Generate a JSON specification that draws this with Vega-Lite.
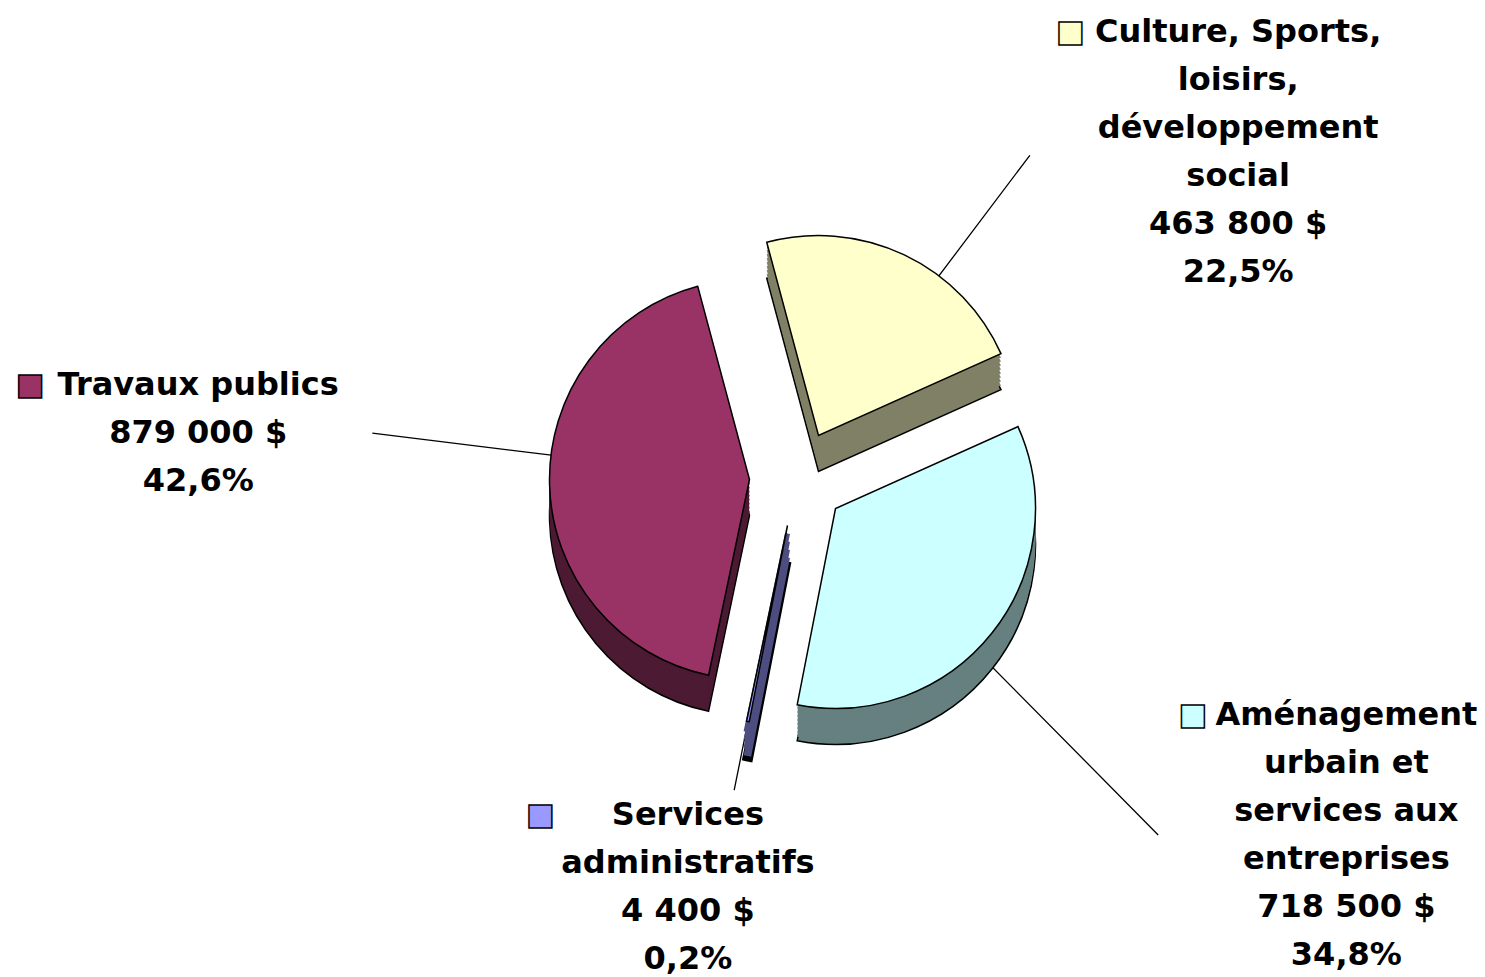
{
  "$schema": "https://vega.github.io/schema/vega-lite/v6.json",
  "width": 1485,
  "height": 977,
  "autosize": {"type": "none"},
  "padding": 0,
  "background": "white",
  "config": {"view": {"stroke": null}},
  "data": {
    "values": [
      {"categorie": "Culture, Sports, loisirs, développement social", "montant": 463800, "pourcentage": 22.5, "etiquette": "Culture, Sports,\nloisirs,\ndéveloppement\nsocial\n463 800 $\n22,5%"},
      {"categorie": "Aménagement urbain et services aux entreprises", "montant": 718500, "pourcentage": 34.8, "etiquette": "Aménagement\nurbain et\nservices aux\nentreprises\n718 500 $\n34,8%"},
      {"categorie": "Services administratifs", "montant": 4400, "pourcentage": 0.2, "etiquette": "Services\nadministratifs\n4 400 $\n0,2%"},
      {"categorie": "Travaux publics", "montant": 879000, "pourcentage": 42.6, "etiquette": "Travaux publics\n879 000 $\n42,6%"}
    ]
  },
  "transform": [
    {"stack": "montant", "groupby": [], "as": ["debut", "fin"]}
  ],
  "encoding": {
    "theta": {"field": "debut", "type": "quantitative", "scale": {"domain": [0, 2065700], "range": [-0.2618, 6.0214]}}
  },
  "layer": [
    {"transform": [{"filter": "datum.categorie === 'Culture, Sports, loisirs, développement social'"}], "mark": {"type": "arc", "radius": 351, "radius2": 150, "thetaOffset": 0.908, "theta2Offset": 0.908, "xOffset": 76, "yOffset": -53, "fillOpacity": 0, "stroke": "black", "strokeWidth": 1.3}, "encoding": {"theta2": {"field": "debut"}}},
    {"transform": [{"filter": "datum.categorie === 'Travaux publics'"}], "mark": {"type": "arc", "radius": 380, "radius2": 150, "thetaOffset": 1.487, "theta2Offset": 1.487, "xOffset": 7, "yOffset": -9, "fillOpacity": 0, "stroke": "black", "strokeWidth": 1.3}, "encoding": {"theta2": {"field": "debut"}}},
    {"transform": [{"filter": "datum.categorie === 'Aménagement urbain et services aux entreprises'"}], "mark": {"type": "arc", "radius": 459, "radius2": 150, "thetaOffset": 1.213, "theta2Offset": 1.213, "xOffset": 93, "yOffset": 20, "fillOpacity": 0, "stroke": "black", "strokeWidth": 1.3}, "encoding": {"theta2": {"field": "debut"}}},
    {"transform": [{"filter": "datum.categorie === 'Services administratifs'"}], "mark": {"type": "arc", "radius": 270, "radius2": 150, "thetaOffset": 0.006, "theta2Offset": 0.006, "xOffset": 45, "yOffset": 37, "fillOpacity": 0, "stroke": "black", "strokeWidth": 1.3}, "encoding": {"theta2": {"field": "debut"}}},

    {"transform": [{"filter": "datum.categorie === 'Culture, Sports, loisirs, développement social'"}], "mark": {"type": "arc", "radius": 200, "xOffset": 76, "yOffset": -17, "fill": "#808066", "stroke": "black", "strokeWidth": 1.5}, "encoding": {"theta2": {"field": "fin"}}},
    {"transform": [{"filter": "datum.categorie === 'Culture, Sports, loisirs, développement social'"}], "mark": {"type": "arc", "radius": 200, "xOffset": 76, "yOffset": -21, "fill": "#808066"}, "encoding": {"theta2": {"field": "fin"}}},
    {"transform": [{"filter": "datum.categorie === 'Culture, Sports, loisirs, développement social'"}], "mark": {"type": "arc", "radius": 200, "xOffset": 76, "yOffset": -25, "fill": "#808066"}, "encoding": {"theta2": {"field": "fin"}}},
    {"transform": [{"filter": "datum.categorie === 'Culture, Sports, loisirs, développement social'"}], "mark": {"type": "arc", "radius": 200, "xOffset": 76, "yOffset": -29, "fill": "#808066"}, "encoding": {"theta2": {"field": "fin"}}},
    {"transform": [{"filter": "datum.categorie === 'Culture, Sports, loisirs, développement social'"}], "mark": {"type": "arc", "radius": 200, "xOffset": 76, "yOffset": -33, "fill": "#808066"}, "encoding": {"theta2": {"field": "fin"}}},
    {"transform": [{"filter": "datum.categorie === 'Culture, Sports, loisirs, développement social'"}], "mark": {"type": "arc", "radius": 200, "xOffset": 76, "yOffset": -37, "fill": "#808066"}, "encoding": {"theta2": {"field": "fin"}}},
    {"transform": [{"filter": "datum.categorie === 'Culture, Sports, loisirs, développement social'"}], "mark": {"type": "arc", "radius": 200, "xOffset": 76, "yOffset": -41, "fill": "#808066"}, "encoding": {"theta2": {"field": "fin"}}},
    {"transform": [{"filter": "datum.categorie === 'Culture, Sports, loisirs, développement social'"}], "mark": {"type": "arc", "radius": 200, "xOffset": 76, "yOffset": -45, "fill": "#808066"}, "encoding": {"theta2": {"field": "fin"}}},
    {"transform": [{"filter": "datum.categorie === 'Culture, Sports, loisirs, développement social'"}], "mark": {"type": "arc", "radius": 200, "xOffset": 76, "yOffset": -49, "fill": "#808066"}, "encoding": {"theta2": {"field": "fin"}}},
    {"transform": [{"filter": "datum.categorie === 'Culture, Sports, loisirs, développement social'"}], "mark": {"type": "arc", "radius": 200, "xOffset": 76, "yOffset": -53, "fill": "#FFFFCC", "stroke": "black", "strokeWidth": 1.5}, "encoding": {"theta2": {"field": "fin"}}},

    {"transform": [{"filter": "datum.categorie === 'Travaux publics'"}], "mark": {"type": "arc", "radius": 200, "xOffset": 7, "yOffset": 27, "fill": "#4D1A33", "stroke": "black", "strokeWidth": 1.5}, "encoding": {"theta2": {"field": "fin"}}},
    {"transform": [{"filter": "datum.categorie === 'Travaux publics'"}], "mark": {"type": "arc", "radius": 200, "xOffset": 7, "yOffset": 23, "fill": "#4D1A33"}, "encoding": {"theta2": {"field": "fin"}}},
    {"transform": [{"filter": "datum.categorie === 'Travaux publics'"}], "mark": {"type": "arc", "radius": 200, "xOffset": 7, "yOffset": 19, "fill": "#4D1A33"}, "encoding": {"theta2": {"field": "fin"}}},
    {"transform": [{"filter": "datum.categorie === 'Travaux publics'"}], "mark": {"type": "arc", "radius": 200, "xOffset": 7, "yOffset": 15, "fill": "#4D1A33"}, "encoding": {"theta2": {"field": "fin"}}},
    {"transform": [{"filter": "datum.categorie === 'Travaux publics'"}], "mark": {"type": "arc", "radius": 200, "xOffset": 7, "yOffset": 11, "fill": "#4D1A33"}, "encoding": {"theta2": {"field": "fin"}}},
    {"transform": [{"filter": "datum.categorie === 'Travaux publics'"}], "mark": {"type": "arc", "radius": 200, "xOffset": 7, "yOffset": 7, "fill": "#4D1A33"}, "encoding": {"theta2": {"field": "fin"}}},
    {"transform": [{"filter": "datum.categorie === 'Travaux publics'"}], "mark": {"type": "arc", "radius": 200, "xOffset": 7, "yOffset": 3, "fill": "#4D1A33"}, "encoding": {"theta2": {"field": "fin"}}},
    {"transform": [{"filter": "datum.categorie === 'Travaux publics'"}], "mark": {"type": "arc", "radius": 200, "xOffset": 7, "yOffset": -1, "fill": "#4D1A33"}, "encoding": {"theta2": {"field": "fin"}}},
    {"transform": [{"filter": "datum.categorie === 'Travaux publics'"}], "mark": {"type": "arc", "radius": 200, "xOffset": 7, "yOffset": -5, "fill": "#4D1A33"}, "encoding": {"theta2": {"field": "fin"}}},
    {"transform": [{"filter": "datum.categorie === 'Travaux publics'"}], "mark": {"type": "arc", "radius": 200, "xOffset": 7, "yOffset": -9, "fill": "#993366", "stroke": "black", "strokeWidth": 1.5}, "encoding": {"theta2": {"field": "fin"}}},

    {"transform": [{"filter": "datum.categorie === 'Aménagement urbain et services aux entreprises'"}], "mark": {"type": "arc", "radius": 200, "xOffset": 93, "yOffset": 56, "fill": "#668080", "stroke": "black", "strokeWidth": 1.5}, "encoding": {"theta2": {"field": "fin"}}},
    {"transform": [{"filter": "datum.categorie === 'Aménagement urbain et services aux entreprises'"}], "mark": {"type": "arc", "radius": 200, "xOffset": 93, "yOffset": 52, "fill": "#668080"}, "encoding": {"theta2": {"field": "fin"}}},
    {"transform": [{"filter": "datum.categorie === 'Aménagement urbain et services aux entreprises'"}], "mark": {"type": "arc", "radius": 200, "xOffset": 93, "yOffset": 48, "fill": "#668080"}, "encoding": {"theta2": {"field": "fin"}}},
    {"transform": [{"filter": "datum.categorie === 'Aménagement urbain et services aux entreprises'"}], "mark": {"type": "arc", "radius": 200, "xOffset": 93, "yOffset": 44, "fill": "#668080"}, "encoding": {"theta2": {"field": "fin"}}},
    {"transform": [{"filter": "datum.categorie === 'Aménagement urbain et services aux entreprises'"}], "mark": {"type": "arc", "radius": 200, "xOffset": 93, "yOffset": 40, "fill": "#668080"}, "encoding": {"theta2": {"field": "fin"}}},
    {"transform": [{"filter": "datum.categorie === 'Aménagement urbain et services aux entreprises'"}], "mark": {"type": "arc", "radius": 200, "xOffset": 93, "yOffset": 36, "fill": "#668080"}, "encoding": {"theta2": {"field": "fin"}}},
    {"transform": [{"filter": "datum.categorie === 'Aménagement urbain et services aux entreprises'"}], "mark": {"type": "arc", "radius": 200, "xOffset": 93, "yOffset": 32, "fill": "#668080"}, "encoding": {"theta2": {"field": "fin"}}},
    {"transform": [{"filter": "datum.categorie === 'Aménagement urbain et services aux entreprises'"}], "mark": {"type": "arc", "radius": 200, "xOffset": 93, "yOffset": 28, "fill": "#668080"}, "encoding": {"theta2": {"field": "fin"}}},
    {"transform": [{"filter": "datum.categorie === 'Aménagement urbain et services aux entreprises'"}], "mark": {"type": "arc", "radius": 200, "xOffset": 93, "yOffset": 24, "fill": "#668080"}, "encoding": {"theta2": {"field": "fin"}}},
    {"transform": [{"filter": "datum.categorie === 'Aménagement urbain et services aux entreprises'"}], "mark": {"type": "arc", "radius": 200, "xOffset": 93, "yOffset": 20, "fill": "#CCFFFF", "stroke": "black", "strokeWidth": 1.5}, "encoding": {"theta2": {"field": "fin"}}},

    {"transform": [{"filter": "datum.categorie === 'Services administratifs'"}], "mark": {"type": "arc", "radius": 200, "xOffset": 45, "yOffset": 73, "fill": "#4D4D80", "stroke": "black", "strokeWidth": 8}, "encoding": {"theta2": {"field": "fin"}}},
    {"transform": [{"filter": "datum.categorie === 'Services administratifs'"}], "mark": {"type": "arc", "radius": 200, "xOffset": 45, "yOffset": 69, "fill": "#4D4D80", "stroke": "#4D4D80", "strokeWidth": 5}, "encoding": {"theta2": {"field": "fin"}}},
    {"transform": [{"filter": "datum.categorie === 'Services administratifs'"}], "mark": {"type": "arc", "radius": 200, "xOffset": 45, "yOffset": 61, "fill": "#4D4D80", "stroke": "#4D4D80", "strokeWidth": 5}, "encoding": {"theta2": {"field": "fin"}}},
    {"transform": [{"filter": "datum.categorie === 'Services administratifs'"}], "mark": {"type": "arc", "radius": 200, "xOffset": 45, "yOffset": 53, "fill": "#4D4D80", "stroke": "#4D4D80", "strokeWidth": 5}, "encoding": {"theta2": {"field": "fin"}}},
    {"transform": [{"filter": "datum.categorie === 'Services administratifs'"}], "mark": {"type": "arc", "radius": 200, "xOffset": 45, "yOffset": 45, "fill": "#4D4D80", "stroke": "#4D4D80", "strokeWidth": 5}, "encoding": {"theta2": {"field": "fin"}}},
    {"transform": [{"filter": "datum.categorie === 'Services administratifs'"}], "mark": {"type": "arc", "radius": 200, "xOffset": 45, "yOffset": 37, "fill": "#9999FF", "stroke": "black", "strokeWidth": 1.5}, "encoding": {"theta2": {"field": "fin"}}},

    {"transform": [{"filter": "datum.categorie === 'Culture, Sports, loisirs, développement social'"}], "mark": {"type": "text", "radius": 674, "thetaOffset": 1.088, "font": "DejaVu Sans", "fontSize": 32, "fontWeight": "bold", "lineHeight": 48, "lineBreak": "\n", "align": "center", "baseline": "middle", "fill": "black"}, "encoding": {"text": {"field": "etiquette"}}},
    {"transform": [{"filter": "datum.categorie === 'Aménagement urbain et services aux entreprises'"}], "mark": {"type": "text", "radius": 645, "thetaOffset": 0.781, "font": "DejaVu Sans", "fontSize": 32, "fontWeight": "bold", "lineHeight": 48, "lineBreak": "\n", "align": "center", "baseline": "middle", "fill": "black"}, "encoding": {"text": {"field": "etiquette"}}},
    {"transform": [{"filter": "datum.categorie === 'Services administratifs'"}], "mark": {"type": "text", "radius": 331, "thetaOffset": -0.027, "font": "DejaVu Sans", "fontSize": 32, "fontWeight": "bold", "lineHeight": 48, "lineBreak": "\n", "align": "center", "baseline": "middle", "fill": "black"}, "encoding": {"text": {"field": "etiquette"}}},
    {"transform": [{"filter": "datum.categorie === 'Travaux publics'"}], "mark": {"type": "text", "radius": 554, "thetaOffset": 1.552, "font": "DejaVu Sans", "fontSize": 32, "fontWeight": "bold", "lineHeight": 48, "lineBreak": "\n", "align": "center", "baseline": "middle", "fill": "black"}, "encoding": {"text": {"field": "etiquette"}}},

    {"transform": [{"filter": "datum.categorie === 'Culture, Sports, loisirs, développement social'"}], "mark": {"type": "text", "radius": 562, "thetaOffset": 0.884, "font": "DejaVu Sans", "fontSize": 30, "align": "center", "baseline": "middle", "fill": "#FFFFCC", "stroke": "black", "strokeWidth": 1.5}, "encoding": {"text": {"value": "■"}}},
    {"transform": [{"filter": "datum.categorie === 'Aménagement urbain et services aux entreprises'"}], "mark": {"type": "text", "radius": 504, "thetaOffset": 0.888, "font": "DejaVu Sans", "fontSize": 30, "align": "center", "baseline": "middle", "fill": "#CCFFFF", "stroke": "black", "strokeWidth": 1.5}, "encoding": {"text": {"value": "■"}}},
    {"transform": [{"filter": "datum.categorie === 'Services administratifs'"}], "mark": {"type": "text", "radius": 384, "thetaOffset": 0.362, "font": "DejaVu Sans", "fontSize": 30, "align": "center", "baseline": "middle", "fill": "#9999FF", "stroke": "black", "strokeWidth": 1.5}, "encoding": {"text": {"value": "■"}}},
    {"transform": [{"filter": "datum.categorie === 'Travaux publics'"}], "mark": {"type": "text", "radius": 720, "thetaOffset": 1.509, "font": "DejaVu Sans", "fontSize": 30, "align": "center", "baseline": "middle", "fill": "#993366", "stroke": "black", "strokeWidth": 1.5}, "encoding": {"text": {"value": "■"}}}
  ]
}
